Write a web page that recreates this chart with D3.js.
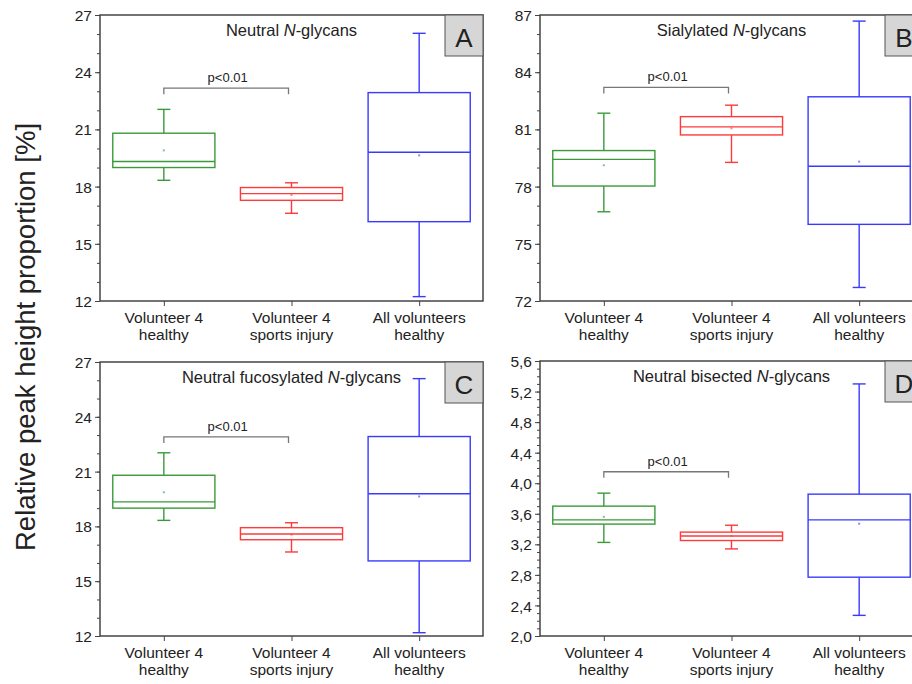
<!DOCTYPE html>
<html>
<head>
<meta charset="utf-8">
<script src="https://cdn.jsdelivr.net/npm/d3@7"></script>
<style>
  body { margin: 0; background: #fff; }
  text { font-family: "Liberation Sans", Arial, sans-serif; fill: #222; }
  .axis path, .axis line { stroke: #444; }
  .axis text { font-size: 15.5px; fill: #222; }
</style>
</head>
<body>
<div id="chart"></div>
<script type="text/javascript">
// categories and box statistics: [whisker low, q1, median, q3, whisker high, mean]
var categories = [["Volunteer 4", "healthy"], ["Volunteer 4", "sports injury"], ["All volunteers", "healthy"]];
var colors = ["#3a9a3a", "#ff3a3a", "#3a3aff"];

var neutral = [[18.33, 19.0, 19.32, 20.8, 22.05, 19.9],
               [16.6, 17.28, 17.63, 17.95, 18.2, 17.56],
               [12.23, 16.16, 19.8, 22.93, 26.04, 19.64]];
var sialylated = [[76.68, 78.03, 79.43, 79.89, 81.85, 79.12],
                  [79.27, 80.71, 81.13, 81.67, 82.27, 81.06],
                  [72.71, 76.02, 79.07, 82.71, 86.68, 79.31]];
var fucosylated = [[18.33, 19.0, 19.34, 20.8, 22.03, 19.87],
                   [16.6, 17.27, 17.58, 17.93, 18.2, 17.55],
                   [12.18, 16.11, 19.79, 22.92, 26.09, 19.64]];
var bisected = [[3.225, 3.465, 3.52, 3.70, 3.87, 3.56],
                [3.14, 3.25, 3.31, 3.36, 3.45, 3.31],
                [2.27, 2.77, 3.52, 3.857, 5.30, 3.47]];

var titles = ["Neutral ", "Sialylated ", "Neutral fucosylated ", "Neutral bisected "];
var letters = ["A", "B", "C", "D"];
var domains = [[12, 27], [72, 87], [12, 27], [2.0, 5.6]];
var majorTicks = [[12, 15, 18, 21, 24, 27],
                  [72, 75, 78, 81, 84, 87],
                  [12, 15, 18, 21, 24, 27],
                  [2.0, 2.4, 2.8, 3.2, 3.6, 4.0, 4.4, 4.8, 5.2, 5.6]];
var minorTicks = [d3.range(12, 28), d3.range(72, 88), d3.range(12, 28), d3.range(20, 57).map(function(d) { return d / 10; })];
var bracketLevels = [23.16, 83.2, 22.9, 4.15];
var pLabel = "p<0.01";

// panel layout
var layout = [{left: 100, right: 483, top: 15, bottom: 301},
              {left: 540, right: 923, top: 15, bottom: 301},
              {left: 100, right: 483, top: 362, bottom: 636},
              {left: 540, right: 923, top: 361, bottom: 636}];
var datasets = [neutral, sialylated, fucosylated, bisected];

var svg = d3.select("#chart").append("svg")
    .attr("width", 912)
    .attr("height", 684);

svg.append("text")
    .attr("transform", "translate(35,337) rotate(-90)")
    .style("text-anchor", "middle")
    .style("font-size", "27.5px")
    .text("Relative peak height proportion [%]");

var fmtComma = function(d) { return d3.format(".1f")(d).replace(".", ","); };

datasets.forEach(function(stats, p) {
  var L = layout[p];
  var g = svg.append("g");

  var x = d3.scalePoint()
      .domain(d3.range(categories.length))
      .range([L.left, L.right])
      .padding(0.5);
  var y = d3.scaleLinear()
      .domain(domains[p])
      .range([L.bottom, L.top]);
  var boxW = x.step() * 0.8;
  var capW = 13;

  // minor ticks
  g.append("g")
      .attr("class", "axis")
      .attr("transform", "translate(" + L.left + ",0)")
      .call(d3.axisLeft(y).tickValues(minorTicks[p]).tickSize(3).tickFormat(""))
      .select(".domain").remove();

  // major ticks
  g.append("g")
      .attr("class", "axis")
      .attr("transform", "translate(" + L.left + ",0)")
      .call(d3.axisLeft(y).tickValues(majorTicks[p]).tickSize(5).tickPadding(3)
        .tickFormat(p === 3 ? fmtComma : d3.format("d")))
      .call(function(a) { a.selectAll("text").attr("dy", "0.36em"); })
      .select(".domain").remove();

  var xAxis = g.append("g")
      .attr("class", "axis")
      .attr("transform", "translate(0," + L.bottom + ")")
      .call(d3.axisBottom(x).tickSize(5).tickFormat(""));
  xAxis.select(".domain").remove();

  // x labels on two lines
  var xl = g.selectAll(".xlabel")
      .data(categories)
      .enter().append("text")
        .attr("class", "xlabel")
        .style("text-anchor", "middle")
        .style("font-size", "15.5px");
  xl.append("tspan")
      .attr("x", function(d, i) { return x(i); })
      .attr("y", L.bottom + 22)
      .text(function(d) { return d[0]; });
  xl.append("tspan")
      .attr("x", function(d, i) { return x(i); })
      .attr("y", L.bottom + 39)
      .text(function(d) { return d[1]; });

  // boxes
  var box = g.selectAll(".box")
      .data(stats)
      .enter().append("g")
        .attr("class", "box")
        .style("stroke", function(d, i) { return colors[i]; })
        .style("stroke-width", 1.4)
        .style("fill", "none");

  box.append("line")
      .attr("x1", function(d, i) { return x(i); })
      .attr("x2", function(d, i) { return x(i); })
      .attr("y1", function(d) { return y(d[4]); })
      .attr("y2", function(d) { return y(d[3]); });
  box.append("line")
      .attr("x1", function(d, i) { return x(i); })
      .attr("x2", function(d, i) { return x(i); })
      .attr("y1", function(d) { return y(d[1]); })
      .attr("y2", function(d) { return y(d[0]); });
  box.append("line")
      .attr("x1", function(d, i) { return x(i) - capW / 2; })
      .attr("x2", function(d, i) { return x(i) + capW / 2; })
      .attr("y1", function(d) { return y(d[4]); })
      .attr("y2", function(d) { return y(d[4]); });
  box.append("line")
      .attr("x1", function(d, i) { return x(i) - capW / 2; })
      .attr("x2", function(d, i) { return x(i) + capW / 2; })
      .attr("y1", function(d) { return y(d[0]); })
      .attr("y2", function(d) { return y(d[0]); });
  box.append("rect")
      .attr("x", function(d, i) { return x(i) - boxW / 2; })
      .attr("width", boxW)
      .attr("y", function(d) { return y(d[3]); })
      .attr("height", function(d) { return y(d[1]) - y(d[3]); });
  box.append("line")
      .attr("x1", function(d, i) { return x(i) - boxW / 2; })
      .attr("x2", function(d, i) { return x(i) + boxW / 2; })
      .attr("y1", function(d) { return y(d[2]); })
      .attr("y2", function(d) { return y(d[2]); });
  box.append("rect")
      .attr("x", function(d, i) { return x(i) - 1; })
      .attr("y", function(d) { return y(d[5]) - 1; })
      .attr("width", 2)
      .attr("height", 2)
      .style("stroke", "none")
      .style("fill", function(d, i) { return colors[i]; })
      .style("opacity", 0.6);

  // significance bracket
  var by = y(bracketLevels[p]);
  g.append("path")
      .attr("d", "M" + x(0) + "," + (by + 6) + "V" + by + "H" + (x(1) - 3) + "V" + (by + 6))
      .style("fill", "none")
      .style("stroke", "#777")
      .style("stroke-width", 1.3);
  g.append("text")
      .attr("x", (x(0) + x(1)) / 2)
      .attr("y", by - 6)
      .style("text-anchor", "middle")
      .style("font-size", "13px")
      .text(pLabel);

  // frame
  g.append("rect")
      .attr("x", L.left)
      .attr("y", L.top)
      .attr("width", L.right - L.left)
      .attr("height", L.bottom - L.top)
      .style("fill", "none")
      .style("stroke", "#444")
      .style("stroke-width", 1.5);

  // title
  var t = g.append("text")
      .attr("x", (L.left + L.right) / 2)
      .attr("y", L.top + 21)
      .style("text-anchor", "middle")
      .style("font-size", "16.5px");
  t.append("tspan").text(titles[p]);
  t.append("tspan").style("font-style", "italic").text("N");
  t.append("tspan").text("-glycans");

  // panel letter
  g.append("rect")
      .attr("x", L.right - 38)
      .attr("y", L.top)
      .attr("width", 38)
      .attr("height", 41)
      .style("fill", "#d6d6d6")
      .style("stroke", "#555")
      .style("stroke-width", 1);
  g.append("text")
      .attr("x", L.right - 19)
      .attr("y", L.top + 32)
      .style("text-anchor", "middle")
      .style("font-size", "26px")
      .text(letters[p]);
});
</script>
</body>
</html>
